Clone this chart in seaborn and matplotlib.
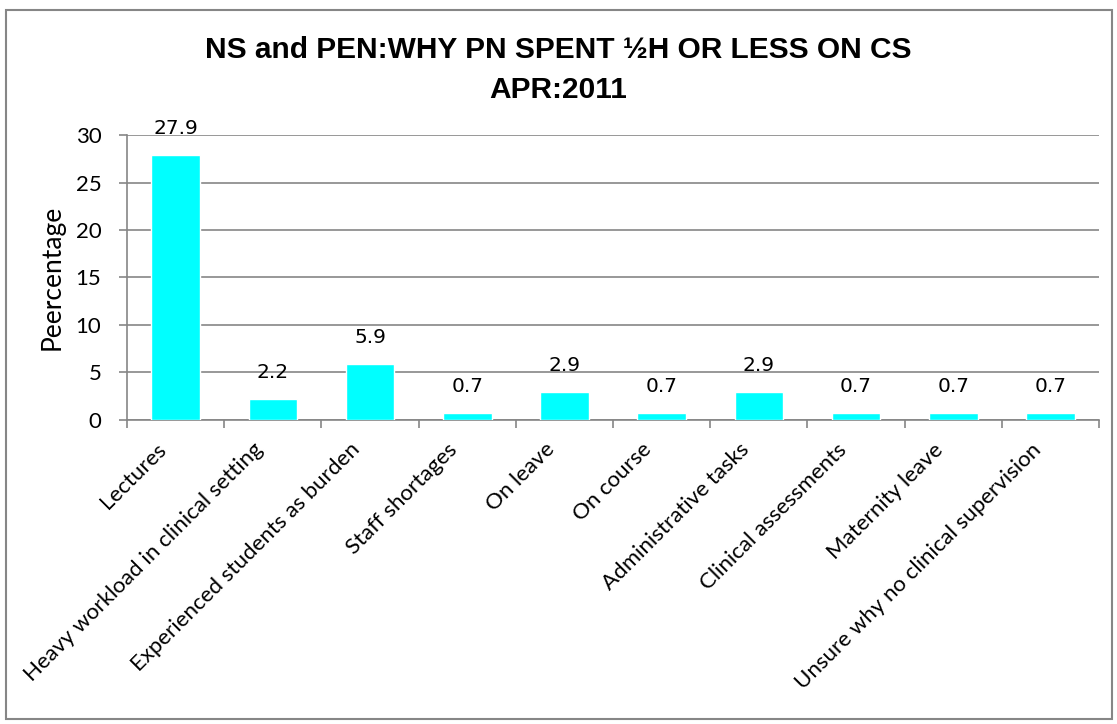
import matplotlib
matplotlib.use("Agg")
import matplotlib.pyplot as plt
import matplotlib.transforms as mtransforms
import seaborn as sns
import pandas as pd
import numpy as np
from matplotlib.patches import Rectangle

categories = [
    "Lectures",
    "Heavy workload in clinical setting",
    "Experienced students as burden",
    "Staff shortages",
    "On leave",
    "On course",
    "Administrative tasks",
    "Clinical assessments",
    "Maternity leave",
    "Unsure why no clinical supervision",
]
percentages = [27.9, 2.2, 5.9, 0.7, 2.9, 0.7, 2.9, 0.7, 0.7, 0.7]
y_ticks = [0, 5, 10, 15, 20, 25, 30]

title_text = "NS and PEN:WHY PN SPENT ½H OR LESS ON CS\nAPR:2011"
y_label = "Peercentage"

sns.set_theme(style="white")
plt.rcParams["font.family"] = ["Lato", "DejaVu Sans"]
plt.rcParams["text.color"] = "black"
plt.rcParams["axes.labelcolor"] = "black"

df = pd.DataFrame({"reason": categories, "pct": percentages})

fig = plt.figure(figsize=(11.17, 7.24), dpi=100)
ax = fig.add_axes([0.1137, 0.42, 0.984 - 0.1137, 0.8135 - 0.42])

grey = "#868686"

sns.barplot(data=df, x="reason", y="pct", color="#00FFFF", saturation=1,
            width=0.5, ax=ax, zorder=3)

ax.set_ylim(0, 30)
ax.set_xlim(-0.5, len(categories) - 0.5)
ax.set_yticks(y_ticks)
ax.yaxis.grid(True, color=grey, linewidth=1.2, zorder=0)
ax.set_axisbelow(True)

for s in ["top", "right"]:
    ax.spines[s].set_visible(False)
for s in ["left", "bottom"]:
    ax.spines[s].set_color(grey)
    ax.spines[s].set_linewidth(1.2)

ax.tick_params(axis="y", which="major", length=6, width=1.2, color=grey,
               labelcolor="black", labelsize=16, pad=12.5, left=True)
ax.set_xticks(np.arange(len(categories)))
ax.set_xticks(np.arange(-0.5, len(categories), 1.0), minor=True)
ax.tick_params(axis="x", which="major", length=0, labelsize=16, pad=14,
               labelcolor="black")
ax.tick_params(axis="x", which="minor", length=6, width=1.2, color=grey,
               bottom=True)
ax.set_xticklabels(categories, rotation=45, ha="right",
                   rotation_mode="anchor")
# nudge the slanted category names a little to the left of each bar
shift = mtransforms.ScaledTranslation(-20 / 100, 0, fig.dpi_scale_trans)
for lbl in ax.get_xticklabels():
    lbl.set_transform(lbl.get_transform() + shift)

ax.set_xlabel("")
ax.set_ylabel(y_label, fontsize=19, labelpad=8, color="black")

for i, v in enumerate(percentages):
    ax.annotate(f"{v}", xy=(i, v), xytext=(0, 19), textcoords="offset points",
                ha="center", va="center", fontsize=14.5, color="black",
                family=["DejaVu Sans"])

fig.text(0.5, 0.903, title_text, ha="center", va="center", fontsize=21.5,
         fontweight="bold", family=["Liberation Sans", "DejaVu Sans"],
         linespacing=1.55, color="black")

fig.patches.append(Rectangle((6 / 1117, 5 / 724), 1106 / 1117, 709 / 724,
                             transform=fig.transFigure, fill=False,
                             edgecolor=grey, linewidth=1.5))

fig.savefig("out.png", dpi=100)
